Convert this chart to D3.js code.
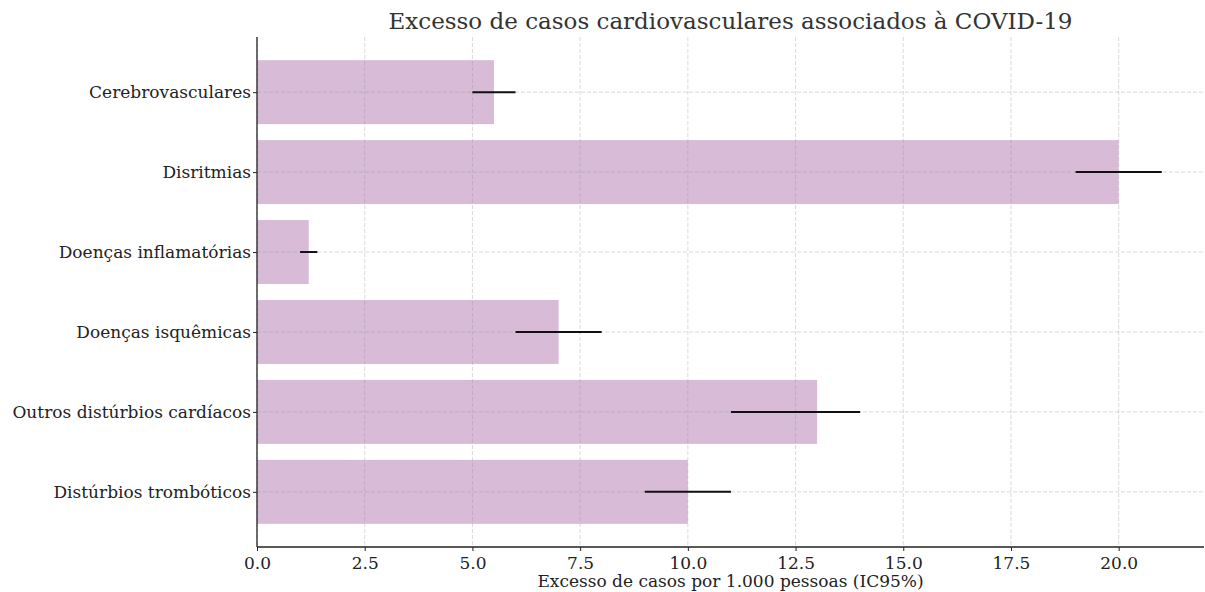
<!DOCTYPE html>
<meta charset="utf-8">
<head>
  <title>Excesso de casos cardiovasculares</title>
</head>
<style>
  body { margin: 0; background: #fff; }
  text { font-family: "DejaVu Serif", serif; }
</style>
<body>
  <svg width="1205" height="592"></svg>
  <script src="https://cdn.jsdelivr.net/npm/d3@7"></script>
  <script>

var categories = ["Cerebrovasculares", "Disritmias", "Doenças inflamatórias",
                  "Doenças isquêmicas", "Outros distúrbios cardíacos", "Distúrbios trombóticos"]
var values = [5.5, 20, 1.2, 7, 13, 10]
var lower = [5, 19, 1.0, 6, 11, 9]
var upper = [6, 21, 1.4, 8, 14, 11]
var xTicks = [0, 2.5, 5, 7.5, 10, 12.5, 15, 17.5, 20]

var svg = d3.select("svg")
var pLeft = 257, pRight = 1204, pTop = 37, pBottom = 547

var x = d3.scaleLinear().domain([0, 21.98]).range([pLeft, pRight])
// bar index -> y, like matplotlib barh with margins
var y = d3.scaleLinear().domain([-0.69, 5.69]).range([pTop, pBottom])
var barH = y(0.4) - y(0)

// bars
svg.selectAll(".bar")
  .data(values)
  .enter().append("rect")
  .attr("class", "bar")
  .attr("x", x(0))
  .attr("y", function(d, i) { return y(i) - barH })
  .attr("width", function(d) { return x(d) - x(0) })
  .attr("height", barH * 2)
  .style("fill", "#d7bbd7")

// grid on top, faint
var grid = svg.append("g")
grid.selectAll(".gx")
  .data(xTicks)
  .enter().append("line")
  .attr("x1", function(d) { return x(d) }).attr("x2", function(d) { return x(d) })
  .attr("y1", pTop).attr("y2", pBottom)
  .style("stroke", "rgba(150,150,150,0.45)")
  .style("stroke-width", 0.8)
  .style("stroke-dasharray", "4,2")
grid.selectAll(".gy")
  .data(categories)
  .enter().append("line")
  .attr("x1", pLeft).attr("x2", pRight)
  .attr("y1", function(d, i) { return y(i) }).attr("y2", function(d, i) { return y(i) })
  .style("stroke", "rgba(150,150,150,0.45)")
  .style("stroke-width", 0.8)
  .style("stroke-dasharray", "4,2")

// error bars
svg.selectAll(".err")
  .data(values)
  .enter().append("line")
  .attr("x1", function(d, i) { return x(lower[i]) })
  .attr("x2", function(d, i) { return x(upper[i]) })
  .attr("y1", function(d, i) { return y(i) })
  .attr("y2", function(d, i) { return y(i) })
  .style("stroke", "#111")
  .style("stroke-width", 2)

// x axis
var xAxis = d3.axisBottom(x).tickValues(xTicks).tickFormat(d3.format(".1f")).tickSizeOuter(0).tickSize(4)
var gx = svg.append("g").attr("transform", "translate(0," + pBottom + ")").call(xAxis)
gx.select(".domain").remove()
gx.selectAll("text").style("font-size", "17px").style("fill", "#222").attr("dy", "0.9em")
gx.selectAll("line").style("stroke", "#222")

// y axis
var yAxis = d3.axisLeft(y).tickValues(d3.range(categories.length))
  .tickFormat(function(i) { return categories[i] }).tickSizeOuter(0).tickSize(4)
var gy = svg.append("g").attr("transform", "translate(" + pLeft + ",0)").call(yAxis)
gy.select(".domain").remove()
gy.selectAll("text").style("font-size", "17px").style("fill", "#222").attr("x", -6)
gy.selectAll("line").style("stroke", "#222")

// spines
svg.append("line").attr("x1", pLeft).attr("x2", pLeft).attr("y1", pTop).attr("y2", pBottom)
  .style("stroke", "#222").style("stroke-width", 1.3)
svg.append("line").attr("x1", pLeft).attr("x2", pRight).attr("y1", pBottom).attr("y2", pBottom)
  .style("stroke", "#222").style("stroke-width", 1.3)

// labels
svg.append("text")
  .attr("x", (pLeft + pRight) / 2).attr("y", 587)
  .attr("text-anchor", "middle")
  .style("font-size", "17px").style("fill", "#222")
  .text("Excesso de casos por 1.000 pessoas (IC95%)")

svg.append("text")
  .attr("x", (pLeft + pRight) / 2).attr("y", 29)
  .attr("text-anchor", "middle")
  .style("font-size", "23px").style("fill", "#333")
  .text("Excesso de casos cardiovasculares associados à COVID-19")

  </script>
</body>
</html>
